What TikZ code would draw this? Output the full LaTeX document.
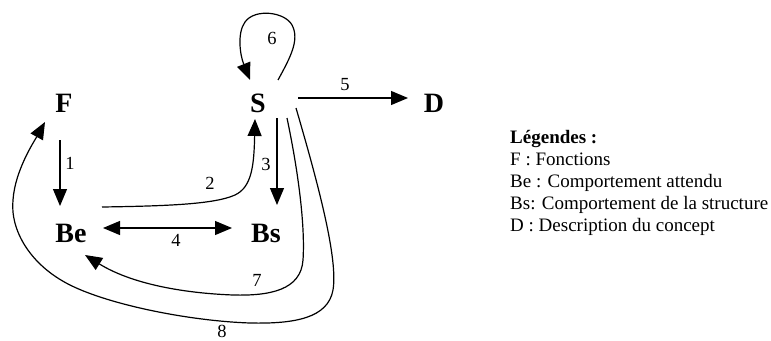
\documentclass[tikz,border=0pt]{standalone}
\usepackage{fontspec}
\setmainfont{Liberation Serif}
\usetikzlibrary{arrows.meta,calc}
\begin{document}
\begin{tikzpicture}[x=1pt,y=-1pt,
  big/.style={font=\fontsize{28}{30}\selectfont\bfseries,inner sep=0pt,anchor=base},
  lab/.style={font=\fontsize{18.5}{20}\selectfont,inner sep=0pt},
  conn/.style={line width=1.2pt,-{Triangle[length=17pt,width=14pt]}},
  plainline/.style={line width=1.2pt}]
\useasboundingbox (0,0) rectangle (771,340);
\node[big] (F) at (64,112) {F};
\node[big] (S) at (258,112) {S};
\node[big] (D) at (434,112) {D};
\node[big] (Be) at (71,242) {Be};
\node[big] (Bs) at (266,242) {Bs};
% 1
\draw[conn] ($(F.base)+(-4,28)$) -- ($(Be.base)+(-11,-36)$);
\node[lab] (l1) at (70,163) {1};
% 2
\draw[conn] ($(Be.base)+(31,-35)$) .. controls (170,206) and (215,204) .. (235,195)
   .. controls (252,187) and (254,165) .. ($(S.base)+(-3,7)$);
\node[lab] (l2) at (210,183) {2};
% 3
\draw[conn] ($(S.base)+(19,6)$) -- ($(Bs.base)+(11,-37)$);
\node[lab] (l3) at (266,164) {3};
% 4
\draw[line width=1.2pt,{Triangle[length=17pt,width=14pt]}-{Triangle[length=17pt,width=14pt]}] ($(Be.base)+(32,-14)$) -- ($(Bs.base)+(-34,-14)$);
\node[lab] (l4) at (176,240) {4};
% 5
\draw[conn] ($(S.base)+(40,-14)$) -- ($(D.base)+(-26,-14)$);
\node[lab] (l5) at (345,85) {5};
% 6
\draw[conn] ($(S.base)+(20,-32)$) .. controls (290,58) and (300,40) .. (292,25)
   .. controls (285,12) and (255,8) .. (245,22)
   .. controls (237,33) and (240,55) .. ($(S.base)+(-8,-32)$);
\node[lab] (l6) at (272,38) {6};
% 7
\draw[conn] ($(S.base)+(29,6)$) .. controls (300,180) and (305,230) .. (303,260)
   .. controls (301,290) and (270,296) .. (233,295)
   .. controls (180,293) and (130,283) .. ($(Be.base)+(14,13)$);
\node[lab] (l7) at (257,280) {7};
% 8
\draw[conn] ($(S.base)+(38,-4)$) .. controls (320,190) and (338,260) .. (333,290)
   .. controls (328,318) and (295,324) .. (250,323)
   .. controls (190,321) and (110,305) .. (70,285)
   .. controls (30,265) and (10,230) .. (13,200)
   .. controls (15,170) and (35,140) .. ($(F.base)+(-19,10)$);
\node[lab] (l8) at (222,331) {8};
% legend
\node[inner sep=0pt,anchor=base west,align=left,font=\fontsize{19}{22}\selectfont] (leg) at (510,231)
 {\textbf{Légendes :}\\ F : Fonctions\\ Be : Comportement attendu\\ Bs: Comportement de la structure\\ D : Description du concept};
\end{tikzpicture}
\end{document}
